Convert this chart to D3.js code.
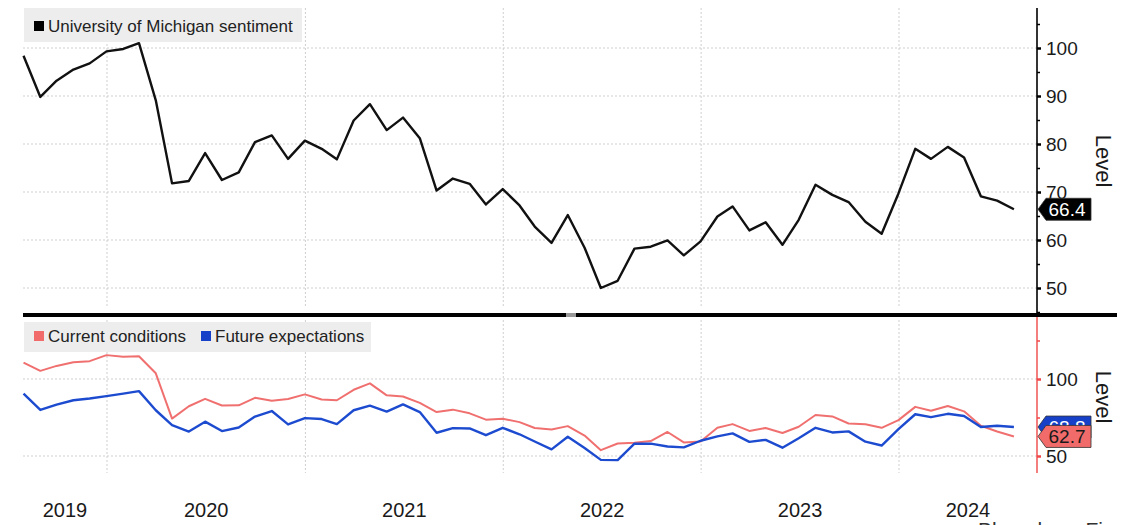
<!DOCTYPE html>
<html><head><meta charset="utf-8">
<script src="https://cdn.jsdelivr.net/npm/d3@7"></script>
<style>
body{margin:0;background:#fff;overflow:hidden;}
svg{display:block;font-family:"Liberation Sans",Arial,sans-serif;}
</style>
</head><body><svg id="c" width="1131" height="525"></svg>
<script>
const months = [
 "2019-07","2019-08","2019-09","2019-10","2019-11","2019-12",
 "2020-01","2020-02","2020-03","2020-04","2020-05","2020-06","2020-07","2020-08","2020-09","2020-10","2020-11","2020-12",
 "2021-01","2021-02","2021-03","2021-04","2021-05","2021-06","2021-07","2021-08","2021-09","2021-10","2021-11","2021-12",
 "2022-01","2022-02","2022-03","2022-04","2022-05","2022-06","2022-07","2022-08","2022-09","2022-10","2022-11","2022-12",
 "2023-01","2023-02","2023-03","2023-04","2023-05","2023-06","2023-07","2023-08","2023-09","2023-10","2023-11","2023-12",
 "2024-01","2024-02","2024-03","2024-04","2024-05","2024-06","2024-07"];
const sentiment = [
 98.4, 89.8, 93.2, 95.5, 96.8, 99.3,
 99.8, 101.0, 89.1, 71.8, 72.3, 78.1, 72.5, 74.1, 80.4, 81.8, 76.9, 80.7,
 79.0, 76.8, 84.9, 88.3, 82.9, 85.5, 81.2, 70.3, 72.8, 71.7, 67.4, 70.6,
 67.2, 62.8, 59.4, 65.2, 58.4, 50.0, 51.5, 58.2, 58.6, 59.9, 56.8, 59.7,
 64.9, 67.0, 62.0, 63.7, 59.0, 64.2, 71.5, 69.4, 67.9, 63.8, 61.3, 69.7,
 79.0, 76.9, 79.4, 77.2, 69.1, 68.2, 66.4];
const current = [
 110.7, 105.3, 108.5, 110.9, 111.6, 115.5,
 114.4, 114.8, 103.7, 74.3, 82.3, 87.1, 82.8, 82.9, 87.8, 85.9, 87.0, 90.0,
 86.7, 86.2, 93.0, 97.2, 89.4, 88.6, 84.5, 78.5, 80.1, 77.7, 73.6, 74.2,
 72.0, 68.2, 67.2, 69.4, 63.3, 53.8, 58.1, 58.6, 59.7, 65.6, 58.8, 59.4,
 68.4, 70.7, 66.3, 68.2, 64.9, 69.0, 76.6, 75.7, 71.1, 70.6, 68.3, 73.3,
 81.9, 79.4, 82.5, 79.0, 69.6, 65.9, 62.7];
const expectations = [
 90.5, 79.9, 83.4, 86.2, 87.3, 88.9,
 90.5, 92.1, 79.7, 70.1, 65.9, 72.3, 66.2, 68.5, 75.6, 79.2, 70.5, 74.6,
 74.0, 70.7, 79.7, 82.7, 78.8, 83.5, 78.5, 65.1, 68.1, 67.9, 63.5, 68.3,
 64.1, 59.4, 54.3, 62.5, 55.2, 47.5, 47.3, 58.0, 58.0, 56.2, 55.6, 59.9,
 62.7, 64.7, 59.2, 60.5, 55.4, 61.5, 68.3, 65.3, 66.0, 59.3, 56.8, 67.4,
 77.1, 75.2, 77.4, 76.0, 68.8, 69.6, 68.8];
const topTicks = [50, 60, 70, 80, 90, 100];
const topMinor = [45, 55, 65, 75, 85, 95, 105];
const bottomTicks = [50, 100];
const bottomMinor = [75, 125];
const years = ["2019", "2020", "2021", "2022", "2023", "2024"];
const gridYears = ["2020", "2021", "2022", "2023", "2024"];

const svg = d3.select("#c");
const parse = d3.timeParse("%Y-%m");
const parseY = d3.timeParse("%Y");
const monthEnd = s => d3.timeDay.offset(d3.timeMonth.offset(parse(s), 1), -1);
const dates = months.map(monthEnd);

const L = 23, R = 1037;
const x = d3.scaleTime().domain([new Date(2020,0,1), new Date(2024,0,1)]).range([107, 899]);
x.domain([x.invert(L), x.invert(R)]).range([L, R]);

const yT = d3.scaleLinear().domain([50, 100]).range([288, 48]);
yT.domain([yT.invert(315), yT.invert(8)]).range([315, 8]);
const yB = d3.scaleLinear().domain([50, 100]).range([456, 379]);
yB.domain([yB.invert(473), yB.invert(320)]).range([473, 320]);

const grid = "#cfcfcf";
// horizontal grids
svg.append("g").selectAll("line").data(topTicks).join("line")
  .attr("x1", L).attr("x2", R).attr("y1", d => yT(d)).attr("y2", d => yT(d))
  .attr("stroke", grid).attr("stroke-dasharray", "2,2");
svg.append("g").selectAll("line").data(bottomTicks).join("line")
  .attr("x1", L).attr("x2", R).attr("y1", d => yB(d)).attr("y2", d => yB(d))
  .attr("stroke", grid).attr("stroke-dasharray", "2,2");
// vertical grids
const gx = gridYears.map(parseY);
svg.append("g").selectAll("line").data(gx).join("line")
  .attr("x1", d => x(d)).attr("x2", d => x(d)).attr("y1", 8).attr("y2", 308)
  .attr("stroke", grid).attr("stroke-dasharray", "2,2");
svg.append("g").selectAll("line").data(gx).join("line")
  .attr("x1", d => x(d)).attr("x2", d => x(d)).attr("y1", 320).attr("y2", 473)
  .attr("stroke", grid).attr("stroke-dasharray", "2,2");

// legends
const lt = svg.append("g");
lt.append("rect").attr("x", 24).attr("y", 8).attr("width", 278).attr("height", 34).attr("fill", "#ededed");
lt.append("rect").attr("x", 34).attr("y", 21).attr("width", 10).attr("height", 10).attr("fill", "#000");
lt.append("text").attr("x", 48).attr("y", 31.5).attr("font-size", 17).attr("fill", "#222").text("University of Michigan sentiment");

const lb = svg.append("g");
lb.append("rect").attr("x", 24).attr("y", 322).attr("width", 347).attr("height", 30).attr("fill", "#ededed");
lb.append("rect").attr("x", 34).attr("y", 331).attr("width", 10).attr("height", 10).attr("fill", "#f26b6b");
lb.append("text").attr("x", 48).attr("y", 342).attr("font-size", 17).attr("fill", "#222").text("Current conditions");
lb.append("rect").attr("x", 201).attr("y", 331).attr("width", 10).attr("height", 10).attr("fill", "#1640c8");
lb.append("text").attr("x", 215).attr("y", 342).attr("font-size", 17).attr("fill", "#222").text("Future expectations");

// lines
const lineT = d3.line().x((d, i) => x(dates[i])).y(d => yT(d));
const lineB = d3.line().x((d, i) => x(dates[i])).y(d => yB(d));
svg.append("path").attr("d", lineT(sentiment)).attr("fill", "none").attr("stroke", "#111").attr("stroke-width", 2.4).attr("stroke-linejoin", "round");
svg.append("path").attr("d", lineB(current)).attr("fill", "none").attr("stroke", "#f07070").attr("stroke-width", 2).attr("stroke-linejoin", "round");
svg.append("path").attr("d", lineB(expectations)).attr("fill", "none").attr("stroke", "#1d4bd0").attr("stroke-width", 2.4).attr("stroke-linejoin", "round");

// separator
svg.append("line").attr("x1", L).attr("x2", 1117).attr("y1", 315).attr("y2", 315).attr("stroke", "#000").attr("stroke-width", 4);
svg.append("rect").attr("x", 566).attr("y", 313).attr("width", 10).attr("height", 4).attr("fill", "#999");

// top axis
svg.append("line").attr("x1", R).attr("x2", R).attr("y1", 8).attr("y2", 315).attr("stroke", "#000").attr("stroke-width", 1.6);
const axT = svg.append("g").attr("transform", `translate(${R},0)`)
  .call(d3.axisRight(yT).tickValues(topTicks).tickSize(4).tickPadding(5).tickFormat(d3.format("d")));
axT.select(".domain").remove();
axT.selectAll(".tick line").attr("stroke", "#000").attr("stroke-width", 2.5);
axT.selectAll(".tick text").attr("font-size", 19).attr("fill", "#1a1a1a").attr("font-family", "Liberation Sans, Arial, sans-serif");
const axTm = svg.append("g").attr("transform", `translate(${R},0)`)
  .call(d3.axisRight(yT).tickValues(topMinor).tickSize(3).tickFormat(""));
axTm.select(".domain").remove();
axTm.selectAll(".tick line").attr("stroke", "#000").attr("stroke-width", 1.5);

// bottom axis
svg.append("line").attr("x1", R).attr("x2", R).attr("y1", 317).attr("y2", 473).attr("stroke", "#f04848").attr("stroke-width", 1.4);
const axB = svg.append("g").attr("transform", `translate(${R},0)`)
  .call(d3.axisRight(yB).tickValues(bottomTicks).tickSize(4).tickPadding(5).tickFormat(d3.format("d")));
axB.select(".domain").remove();
axB.selectAll(".tick line").attr("stroke", "#f04848").attr("stroke-width", 2.5);
axB.selectAll(".tick text").attr("font-size", 19).attr("fill", "#1a1a1a").attr("font-family", "Liberation Sans, Arial, sans-serif");
const axBm = svg.append("g").attr("transform", `translate(${R},0)`)
  .call(d3.axisRight(yB).tickValues(bottomMinor).tickSize(3).tickFormat(""));
axBm.select(".domain").remove();
axBm.selectAll(".tick line").attr("stroke", "#f04848").attr("stroke-width", 1.5);

// axis titles
[[161], [397]].forEach(([cy]) => {
  svg.append("text").attr("x", 1103).attr("y", cy).attr("transform", `rotate(90,1103,${cy})`)
    .attr("text-anchor", "middle").attr("dominant-baseline", "central")
    .attr("font-size", 22).attr("fill", "#1a1a1a").text("Level");
});

// value tags
function tag(cy, val, fill, tcolor) {
  const x0 = 1038, x1 = 1091, h = 11;
  svg.append("path")
    .attr("d", `M${x0},${cy} L${x0 + 8},${cy - h} L${x1},${cy - h} L${x1},${cy + h} L${x0 + 8},${cy + h} Z`)
    .attr("fill", fill).attr("stroke", "#333").attr("stroke-width", 0.8);
  svg.append("text").attr("x", 1067).attr("y", cy).attr("text-anchor", "middle")
    .attr("dominant-baseline", "central").attr("font-size", 19).attr("fill", tcolor).text(val.toFixed(1));
}
tag(yT(sentiment[sentiment.length - 1]), sentiment[sentiment.length - 1], "#000", "#fff");
tag(yB(expectations[expectations.length - 1]), expectations[expectations.length - 1], "#1640c8", "#fff");
tag(yB(current[current.length - 1]), current[current.length - 1], "#f26b6b", "#1a1a1a");

// year labels
years.forEach(y => {
  const a = Math.max(x(parseY(y)), L);
  const b = Math.min(x(parseY(String(+y + 1))), R);
  svg.append("text").attr("x", (a + b) / 2).attr("y", 517).attr("text-anchor", "middle")
    .attr("font-size", 20).attr("fill", "#1a1a1a").text(y);
});

// source (cut off at bottom)
svg.append("text").attr("x", 978).attr("y", 537).attr("font-size", 21).attr("fill", "#333").text("Bloomberg Finance L.P.");
</script>
</body></html>
